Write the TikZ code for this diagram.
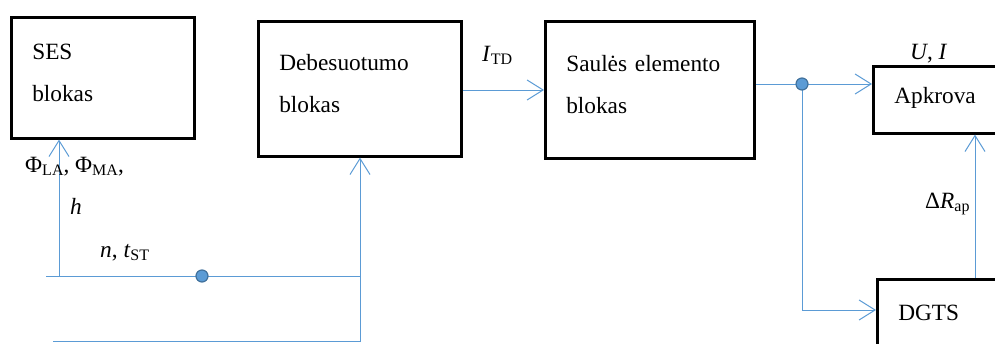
\documentclass[tikz,border=0pt]{standalone}
\usepackage{fontspec}
\setmainfont{Liberation Serif}
\usetikzlibrary{arrows.meta}
\definecolor{lineblue}{HTML}{5B9BD5}
\definecolor{dotedge}{HTML}{41719C}
\newcommand\mysub[1]{\raisebox{-3pt}{\fontsize{16}{16}\selectfont #1}}
\begin{document}
\begin{tikzpicture}[x=1pt,y=-1pt,
  box/.style={draw=black, line width=2.6pt, rectangle, align=left, inner xsep=21pt, inner ysep=0pt, anchor=north west, font=\fontsize{23.3}{42}\selectfont},
  conn/.style={draw=lineblue, line width=1pt},
  arr/.style={conn, -{Straight Barb[length=16pt,width=20pt,line width=1pt]}},
  junction/.style={circle, fill=lineblue, draw=dotedge, line width=1.2pt, minimum size=12pt, inner sep=0pt},
  lbl/.style={font=\fontsize{23.3}{27}\selectfont, inner sep=0pt, anchor=base west}]
\useasboundingbox (0,0) rectangle (995,343);

% blocks
\node[box, text width=141pt, minimum height=121pt] (ses) at (10,16) {SES\\blokas\rule[-10pt]{0pt}{0pt}};
\node[box, text width=161pt, minimum height=135pt] (deb) at (257,20) {Debesuotumo\\blokas\rule[-10pt]{0pt}{0pt}};
\node[box, text width=167pt, minimum height=137pt] (sul) at (544,20) {Saulės elemento\\blokas\rule[-10pt]{0pt}{0pt}};
\node[box, text width=100pt, minimum height=67pt] (apk) at (872,65) {Apkrova\rule[-9pt]{0pt}{0pt}};
\node[box, text width=100pt, minimum height=68pt] (dgts) at (876,278) {DGTS};

% helper coordinates
\coordinate (yt) at (0,90);
\coordinate (j1) at (802,84);
\coordinate (j1b) at (802,310);
\coordinate (xr) at (975,0);
\coordinate (l1) at (46,276);
\coordinate (r1) at (361,276);
\coordinate (j2) at (202,276);
\coordinate (l2) at (53,341);
\coordinate (r2) at (361,341);
\coordinate (xa) at (59,0);
\coordinate (b2) at (360,342);

% connectors
\draw[arr] (deb.east |- yt) -- (sul.west |- yt);
\draw[conn] (sul.east |- j1) -- (j1);
\draw[arr] (j1) -- (apk.west |- j1);
\draw[arr] (j1) -- (j1b) -- (dgts.west |- j1b);
\draw[arr] (dgts.north -| xr) -- (apk.south -| xr);
\draw[conn] (l1) -- (r1);
\draw[conn] (l2) -- (r2);
\draw[arr] (l1 -| xa) -- (ses.south -| xa);
\draw[arr] (b2) -- (deb.south -| b2);

\node[junction] (d1) at (j1) {};
\node[junction] (d2) at (j2) {};

% labels
\node[lbl] (phi) at (25,172) {Φ\mysub{LA}, Φ\mysub{MA},};
\node[lbl] (hl) at (70,214) {\textit{h}};
\node[lbl] (nt) at (100,257) {\textit{n}, \textit{t}\mysub{ST}};
\node[lbl] (itd) at (482,61) {\textit{I}\mysub{TD}};
\node[lbl] (ui) at (910,59) {\textit{U}, \textit{I}};
\node[lbl] (dr) at (925,208) {Δ\textit{R}\mysub{ap}};
\end{tikzpicture}
\end{document}
